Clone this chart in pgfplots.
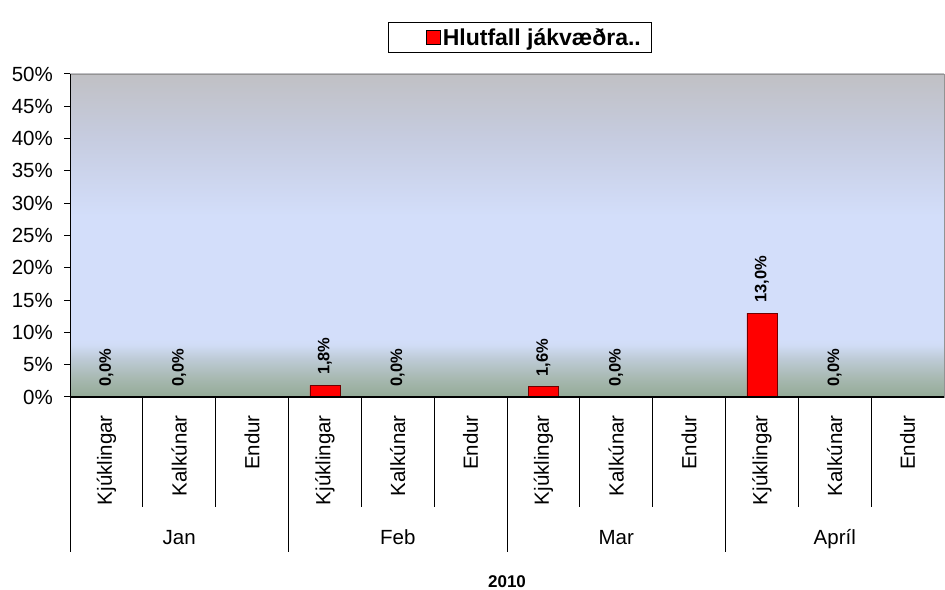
\documentclass[border=0pt]{standalone}
\usepackage{fontspec}
\setmainfont{Liberation Sans}
\usepackage{pgfplots}
\pgfplotsset{compat=1.18}
\definecolor{c0}{RGB}{147,170,150}
\definecolor{c3}{RGB}{168,185,178}
\definecolor{c6}{RGB}{190,203,215}
\definecolor{c8}{RGB}{208,220,245}
\definecolor{cL}{RGB}{211,222,250}
\definecolor{c40}{RGB}{198,204,224}
\definecolor{cT}{RGB}{192,192,196}
\definecolor{darkred}{RGB}{110,0,0}
\pgfdeclareverticalshading{excelbg}{100bp}{color(0bp)=(c0); color(25bp)=(c0); color(28bp)=(c3); color(31bp)=(c6); color(33bp)=(c8); color(34bp)=(cL); color(53bp)=(cL); color(65bp)=(c40); color(75bp)=(cT); color(100bp)=(cT)}
\begin{document}
\begin{tikzpicture}
\useasboundingbox (0,0) rectangle (945pt,589pt);
\begin{axis}[
  at={(70pt,192pt)}, anchor=south west,
  width=874pt, height=323pt, scale only axis,
  xmin=-0.5, xmax=11.5, ymin=0, ymax=50,
  axis background/.style={shade, shading=excelbg},
  axis line style={draw=gray!85, line width=0.8pt},
  /pgf/number format/assume math mode=true,
  ytick={0,5,...,50},
  yticklabel={\pgfmathprintnumber{\tick}\%},
  yticklabel style={font=\fontsize{20.5}{20.5}\selectfont, inner sep=0pt, xshift=-11pt},
  ytick pos=left, tick align=outside, major tick length=6pt,
  ytick style={black, line width=1pt},
  xtick={0,...,11},
  xtick style={draw=none},
  xticklabels={Kjúklingar,Kalkúnar,Endur,Kjúklingar,Kalkúnar,Endur,Kjúklingar,Kalkúnar,Endur,Kjúklingar,Kalkúnar,Endur},
  xticklabel style={rotate=90, anchor=east, inner sep=0pt, font=\fontsize{20.5}{20.5}\selectfont},
  xticklabel shift=12pt,
  legend style={at={(0.5143,1.113)}, anchor=center, draw=black, line width=0.8pt, fill=white,
     font=\bfseries\fontsize{23}{23}\selectfont, inner xsep=8pt, inner ysep=4pt},
  legend image code/.code={\path (-30pt,0pt); \draw[fill=red, draw=black, line width=0.6pt] (0pt,-7pt) rectangle (14pt,7pt);},
  clip=false,
]
\addplot[ybar, bar width=30pt, fill=red, draw=darkred, line width=0.8pt,
  nodes near coords={\pgfmathprintnumber[fixed,fixed zerofill,precision=1,use comma]{\pgfplotspointmeta}\%},
  every node near coord/.append style={rotate=90, anchor=west, font=\bfseries\fontsize{16.5}{16.5}\selectfont, inner xsep=10pt, inner ysep=0pt, black},
] coordinates {(0,0) (1,0) (3,1.8) (4,0) (6,1.6) (7,0) (9,13.0) (10,0)};
\addlegendentry{Hlutfall jákvæðra..}
\draw[black, line width=2pt] (rel axis cs:0,0) -- (rel axis cs:1,0);
\draw[black, line width=1pt] (rel axis cs:0,0) -- (rel axis cs:0,1);
\pgfplotsinvokeforeach{0.5,1.5,3.5,4.5,6.5,7.5,9.5,10.5}{
  \draw[black, line width=1pt] (axis cs:#1,0) -- ++(0pt,-110pt);
}
\pgfplotsinvokeforeach{-0.5,2.5,5.5,8.5}{
  \draw[black, line width=1pt] (axis cs:#1,0) -- ++(0pt,-155pt);
}
\node[anchor=base, font=\fontsize{20.5}{20.5}\selectfont] at ([yshift=-147pt]axis cs:1,0) {Jan};
\node[anchor=base, font=\fontsize{20.5}{20.5}\selectfont] at ([yshift=-147pt]axis cs:4,0) {Feb};
\node[anchor=base, font=\fontsize{20.5}{20.5}\selectfont] at ([yshift=-147pt]axis cs:7,0) {Mar};
\node[anchor=base, font=\fontsize{20.5}{20.5}\selectfont] at ([yshift=-147pt]axis cs:10,0) {Apríl};
\node[anchor=base, font=\bfseries\fontsize{17}{17}\selectfont] at ([yshift=-190pt]rel axis cs:0.5,0) {2010};
\end{axis}
\end{tikzpicture}
\end{document}
